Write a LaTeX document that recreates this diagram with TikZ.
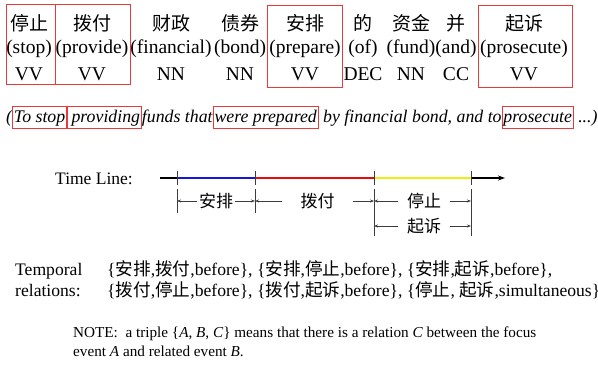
\documentclass[tikz,border=0pt]{standalone}
\usepackage{fontspec}
\setmainfont{Liberation Serif}
\newfontfamily\cjk{Noto Sans CJK SC}
\usetikzlibrary{arrows.meta}
\newcommand\zh[1]{{\cjk #1}}
\definecolor{boxred}{RGB}{232,58,58}
\definecolor{tlblue}{RGB}{20,20,230}
\definecolor{tlred}{RGB}{235,10,10}
\definecolor{tlyellow}{RGB}{240,235,20}
\definecolor{tickgray}{RGB}{60,60,60}
\begin{document}
\begin{tikzpicture}[x=1pt,y=-1pt,
  every node/.style={inner sep=0pt},
  toprow/.style={font=\fontsize{19.5}{20}\selectfont},
  zhtop/.style={font=\fontsize{19}{20}\selectfont\cjk},
  redbox/.style={draw=boxred, line width=0.9pt, inner sep=0pt},
  seg/.style={font=\fontsize{17.8}{18}\selectfont\itshape, anchor=base west, text height=14pt, text depth=4pt, inner ysep=2pt, inner xsep=0pt},
  segbox/.style={seg, draw=boxred, line width=0.9pt, inner xsep=1.2pt},
  body/.style={font=\fontsize{17.6}{18}\selectfont, anchor=base west},
  ivlabel/.style={font=\fontsize{17}{18}\selectfont\cjk, inner xsep=1.5pt},
  ivarrow/.style={draw=tickgray, line width=0.6pt, -{Stealth[length=4pt,width=3pt]}},
  tick/.style={draw=tickgray, line width=0.8pt},
  tl/.style={line width=1.8pt},
  note/.style={font=\fontsize{15.2}{16}\selectfont, anchor=base west}
]
\useasboundingbox (0,0) rectangle (598,365);

% ---------- top row: words ----------
\foreach \x/\c/\e/\p/\n in {29/停止/(stop)/VV/1, 92/拨付/(provide)/VV/2, 171/财政/(financial)/NN/3, 240/债券/(bond)/NN/4, 305/安排/(prepare)/VV/5, 363/的/(of)/DEC/6, 411/资金/(fund)/NN/7, 456/并/(and)/CC/8, 524/起诉/(prosecute)/VV/9}{
  \node[zhtop] (c\n) at (\x,23) {\c};
  \node[toprow] (e\n) at (\x,49) {\e};
  \node[toprow] (p\n) at (\x,74) {\p};
}
\node[redbox, minimum width=49pt, minimum height=80pt] (b1) at (30.5,44) {};
\node[redbox, minimum width=75pt, minimum height=80pt] (b2) at (92.5,44) {};
\node[redbox, minimum width=75pt, minimum height=82pt] (b3) at (304.5,46) {};
\node[redbox, minimum width=94pt, minimum height=82pt] (b4) at (525,46) {};

% ---------- sentence ----------
\node[seg] (s0) at (6,122) {(};
\node[segbox] (s1) at (s0.base east) {To stop};
\node[segbox] (s2) at (s1.base east) {\,providing};
\node[seg] (s3) at (s2.base east) {funds that\ };
\node[segbox] (s4) at (s3.base east) {were prepared};
\node[seg] (s5) at (s4.base east) {\ by financial bond, and to\ };
\node[segbox] (s6) at (s5.base east) {prosecute\ };
\node[seg] (s7) at (s6.base east) {\ ...)};

% ---------- time line ----------
\node[font=\fontsize{17.5}{18}\selectfont] (tlabel) at (94,179) {Time Line:};
\coordinate (t0) at (160,178);
\coordinate (t1) at (177,178);
\coordinate (t2) at (255,178);
\coordinate (t3) at (374,178);
\coordinate (t4) at (471,178);
\coordinate (tend) at (505,178);
\draw[tl] (t0) -- (t1);
\draw[tl, tlblue] (t1) -- (t2);
\draw[tl, tlred] (t2) -- (t3);
\draw[tl, tlyellow] (t3) -- (t4);
\draw[tl, -{Stealth[length=7pt,width=5pt]}] (t4) -- (tend);
\foreach \n in {1,2,3,4}{
  \draw[tick] ([yshift=7pt]t\n) -- ([yshift=-7pt]t\n);
}
\draw[tick] ([yshift=-11pt]t1) -- ([yshift=-35pt]t1);
\draw[tick] ([yshift=-11pt]t2) -- ([yshift=-35pt]t2);
\draw[tick] ([yshift=-11pt]t3) -- ([yshift=-58pt]t3);
\draw[tick] ([yshift=-11pt]t4) -- ([yshift=-58pt]t4);

\node[ivlabel] (l1) at (216,201) {安排};
\node[ivlabel, minimum width=71pt] (l2) at (317.5,201) {拨付};
\node[ivlabel, minimum width=52pt] (l3) at (424,201) {停止};
\node[ivlabel, minimum width=52pt] (l4) at (424,226) {起诉};
\draw[ivarrow] (l1.west) -- (l1.west -| t1);
\draw[ivarrow] (l1.east) -- (l1.east -| t2);
\draw[ivarrow] (l2.west) -- (l2.west -| t2);
\draw[ivarrow] (l2.east) -- (l2.east -| t3);
\draw[ivarrow] (l3.west) -- (l3.west -| t3);
\draw[ivarrow] (l3.east) -- (l3.east -| t4);
\draw[ivarrow] (l4.west) -- (l4.west -| t3);
\draw[ivarrow] (l4.east) -- (l4.east -| t4);

% ---------- temporal relations ----------
\node[body] (tr1) at (15,275) {Temporal};
\node[body] (tr2) at (15,296) {relations:};
\node[body] (rel1) at (107,275) {\{\zh{安排},\zh{拨付},before\}, \{\zh{安排},\zh{停止},before\}, \{\zh{安排},\zh{起诉},before\},};
\node[body] (rel2) at (107,296) {\{\zh{拨付},\zh{停止},before\}, \{\zh{拨付},\zh{起诉},before\}, \{\zh{停止}, \zh{起诉},simultaneous\}};

% ---------- note ----------
\node[note] (n1) at (73,337) {NOTE:\ \ a triple \{\textit{A}, \textit{B}, \textit{C}\} means that there is a relation \textit{C} between the focus};
\node[note] (n2) at (73,356) {event \textit{A} and related event \textit{B}.};
\end{tikzpicture}
\end{document}
